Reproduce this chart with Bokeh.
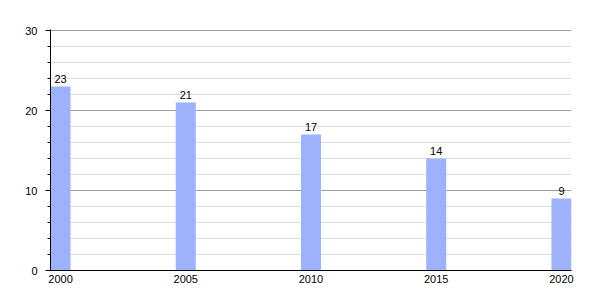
from bokeh.plotting import figure
from bokeh.models import Range1d, FixedTicker, ColumnDataSource
from bokeh.core.properties import value
from bokeh.embed import file_html
from bokeh.resources import INLINE

years = [2000, 2005, 2010, 2015, 2020]
values = [23, 21, 17, 14, 9]
labels = [str(v) for v in values]
y_major = [0, 10, 20, 30]
y_minor = [2, 4, 6, 8, 12, 14, 16, 18, 22, 24, 26, 28]

src = ColumnDataSource(dict(x=years, top=values, label=labels))

p = figure(width=600, height=300, output_backend="svg", toolbar_location=None,
           x_range=Range1d(1999.6, 2020.4), y_range=Range1d(0, 30.125),
           min_border_left=50, min_border_right=29, min_border_top=29, min_border_bottom=30)
p.outline_line_color = None
p.background_fill_color = "white"

p.vbar(x="x", top="top", width=0.8, source=src, fill_color="#9db1fd", line_color=None)
p.text(x="x", y="top", text="label", source=src, text_align="center", text_baseline="bottom",
       y_offset=-4, text_font=value("Liberation Sans"), text_font_size="11px", text_color="black")

p.xgrid.grid_line_color = None
p.ygrid.ticker = FixedTicker(ticks=y_major, minor_ticks=y_minor)
p.ygrid.grid_line_color = "#a0a0a0"
p.ygrid.minor_grid_line_color = "#dddddd"

p.yaxis.ticker = FixedTicker(ticks=y_major, minor_ticks=y_minor)
p.yaxis.axis_line_color = "black"
p.yaxis.major_tick_in = 0
p.yaxis.major_tick_out = 5
p.yaxis.minor_tick_in = 0
p.yaxis.minor_tick_out = 3
p.yaxis.major_tick_line_color = "black"
p.yaxis.minor_tick_line_color = "black"
p.yaxis.major_label_standoff = 8
p.yaxis.major_label_text_font = "Liberation Sans"
p.yaxis.major_label_text_font_size = "11px"
p.yaxis.major_label_text_color = "black"

p.xaxis.ticker = FixedTicker(ticks=years)
p.xaxis.axis_line_color = "black"
p.xaxis.major_tick_line_color = None
p.xaxis.minor_tick_line_color = None
p.xaxis.major_tick_in = 0
p.xaxis.major_tick_out = 0
p.xaxis.major_label_standoff = 4
p.xaxis.major_label_text_font = "Liberation Sans"
p.xaxis.major_label_text_font_size = "11px"
p.xaxis.major_label_text_color = "black"

open("out.html", "w").write(file_html(p, INLINE))
